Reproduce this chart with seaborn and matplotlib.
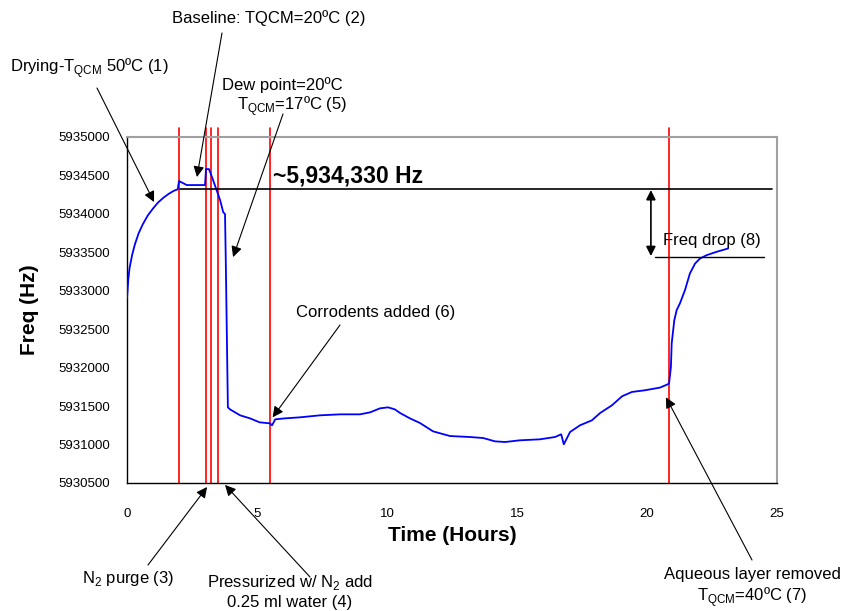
import matplotlib
matplotlib.use("Agg")
import matplotlib.pyplot as plt
import seaborn as sns
import pandas as pd

# QCM frequency trace
hours = [0.0, 0.05, 0.1, 0.2, 0.3, 0.45, 0.6, 0.8, 1.0, 1.2, 1.4, 1.6, 1.8, 1.95,
         2.0, 2.3, 3.0, 3.04, 3.15, 3.27, 3.35, 3.46, 3.58, 3.7, 3.77, 3.8, 3.88,
         3.96, 4.35, 4.73, 5.1, 5.5, 5.58, 5.7, 6.08, 6.65, 7.42, 8.2, 8.96, 9.35,
         9.73, 10.04, 10.3, 10.5, 10.88, 11.27, 11.77, 12.42, 13.19, 13.7, 14.15,
         14.54, 15.1, 15.88, 16.46, 16.7, 16.8, 17.04, 17.42, 17.88, 18.2, 18.65,
         19.04, 19.42, 19.92, 20.5, 20.8, 20.85, 20.92, 20.95, 21.05, 21.14, 21.27,
         21.46, 21.65, 21.85, 22.04, 22.3, 22.68, 23.12]
freq = [5932900, 5933150, 5933300, 5933470, 5933600, 5933750, 5933860, 5933980,
        5934070, 5934150, 5934210, 5934260, 5934300, 5934320,
        5934427, 5934375, 5934375, 5934583, 5934583, 5934479, 5934401, 5934297,
        5934180, 5934023, 5933997, 5933372, 5931484,
        5931458, 5931380, 5931341, 5931289, 5931276, 5931250, 5931328, 5931341,
        5931354, 5931380, 5931393, 5931393, 5931419,
        5931471, 5931484, 5931458, 5931411, 5931341, 5931280, 5931172, 5931111,
        5931098, 5931085, 5931042,
        5931033, 5931055, 5931068, 5931098, 5931133, 5931003, 5931163, 5931250,
        5931315, 5931411, 5931510,
        5931628, 5931684, 5931706, 5931741, 5931784, 5931797, 5932010, 5932318,
        5932617, 5932747, 5932839,
        5933008, 5933225, 5933355, 5933420, 5933464, 5933507, 5933550]

event_hours = [2.0, 3.04, 3.22, 3.49, 5.5, 20.85]
baseline_freq = 5934330
drop_freq = 5933441

x_ticks = [0, 5, 10, 15, 20, 25]
y_ticks = list(range(5930500, 5935001, 500))

df = pd.DataFrame({"Time (Hours)": hours, "Freq (Hz)": freq})

sns.set_style("white")
plt.rcParams["font.family"] = ["Liberation Sans", "DejaVu Sans"]
plt.rcParams.update({"text.color": "black", "axes.labelcolor": "black",
                     "xtick.color": "black", "ytick.color": "black"})

W, H = 842, 611
fig = plt.figure(figsize=(W / 100, H / 100), dpi=100)
ax = fig.add_axes([127 / W, 1 - 483 / H, 650 / W, 346 / H])

sns.lineplot(data=df, x="Time (Hours)", y="Freq (Hz)", ax=ax,
             color="#0000ff", linewidth=1.3, zorder=3)

ax.set_xlim(0, 25)
ax.set_ylim(5930500, 5935000)
ax.set_xticks(x_ticks)
ax.set_yticks(y_ticks)
ax.set_xticklabels([str(t) for t in x_ticks], fontsize=9.5)
ax.set_yticklabels([str(t) for t in y_ticks], fontsize=9.5)
ax.tick_params(axis="x", direction="out", length=5, width=1, pad=13)
ax.tick_params(axis="y", direction="out", length=4, width=1, pad=8)
ax.set_xlabel("Time (Hours)", fontsize=15, fontweight="bold", labelpad=4)
ax.set_ylabel("Freq (Hz)", fontsize=15, fontweight="bold", labelpad=14)

for side in ["top", "right"]:
    ax.spines[side].set_color("#a0a0a0")
    ax.spines[side].set_linewidth(1.5)
for side in ["left", "bottom"]:
    ax.spines[side].set_color("black")
    ax.spines[side].set_linewidth(1.0)

# event markers
for h in event_hours:
    ax.axvline(h, ymin=0, ymax=1.026, color="red", linewidth=1.2,
               clip_on=False, zorder=2)

# baseline and frequency drop
ax.plot([2.04, 24.8], [baseline_freq] * 2, color="black", linewidth=1.2, zorder=4)
ax.plot([20.3, 24.5], [drop_freq] * 2, color="black", linewidth=1.0, zorder=4)
ax.annotate("", xy=(20.15, baseline_freq - 20), xytext=(20.15, drop_freq + 10),
            arrowprops=dict(arrowstyle="<|-|>", color="black", lw=1.2,
                            mutation_scale=14, shrinkA=0, shrinkB=0))
ax.text(5.6, baseline_freq + 160, "~5,934,330 Hz", fontsize=16.5,
        fontweight="bold", va="center", ha="left")
ax.text(20.6, drop_freq + 210, "Freq drop (8)", fontsize=12, va="center", ha="left")


def fp(px, py):
    return (px / W, 1 - py / H)


arrow_kw = dict(arrowstyle="-|>", color="black", lw=0.8, mutation_scale=16,
                shrinkA=0, shrinkB=0)


def pointer(xy, tail):
    ax.annotate("", xy=xy, xycoords="data", xytext=fp(*tail),
                textcoords="figure fraction", arrowprops=arrow_kw,
                annotation_clip=False)


pointer((1.04, 5934154), (97, 88))
pointer((2.69, 5934479), (222, 33))
pointer((4.08, 5933438), (283, 114))
pointer((5.6, 5931354), (340, 325))
pointer((3.08, 5930448), (148, 565))
pointer((3.77, 5930475), (310, 577))
pointer((20.73, 5931615), (752, 560))

fs = 12
fig.text(*fp(10, 68), "Drying-T$_{\\mathregular{QCM}}$ 50ºC (1)", fontsize=fs,
         ha="left", va="center")
fig.text(*fp(172, 18), "Baseline: TQCM=20ºC (2)", fontsize=fs,
         ha="left", va="center")
fig.text(*fp(222, 85), "Dew point=20ºC", fontsize=fs, ha="left", va="center")
fig.text(*fp(237, 106), "T$_{\\mathregular{QCM}}$=17ºC (5)", fontsize=fs,
         ha="left", va="center")
fig.text(*fp(296, 313), "Corrodents added (6)", fontsize=fs, ha="left", va="center")
fig.text(*fp(82, 578), "N$_{\\mathregular{2}}$ purge (3)", fontsize=fs,
         ha="left", va="center")
fig.text(*fp(290, 582), "Pressurized w/ N$_{\\mathregular{2}}$ add", fontsize=fs,
         ha="center", va="center")
fig.text(*fp(290, 602), "0.25 ml water (4)", fontsize=fs, ha="center", va="center")
fig.text(*fp(752, 575), "Aqueous layer removed", fontsize=fs,
         ha="center", va="center")
fig.text(*fp(752, 597), "T$_{\\mathregular{QCM}}$=40ºC (7)", fontsize=fs,
         ha="center", va="center")

fig.savefig("out.png", dpi=100)
